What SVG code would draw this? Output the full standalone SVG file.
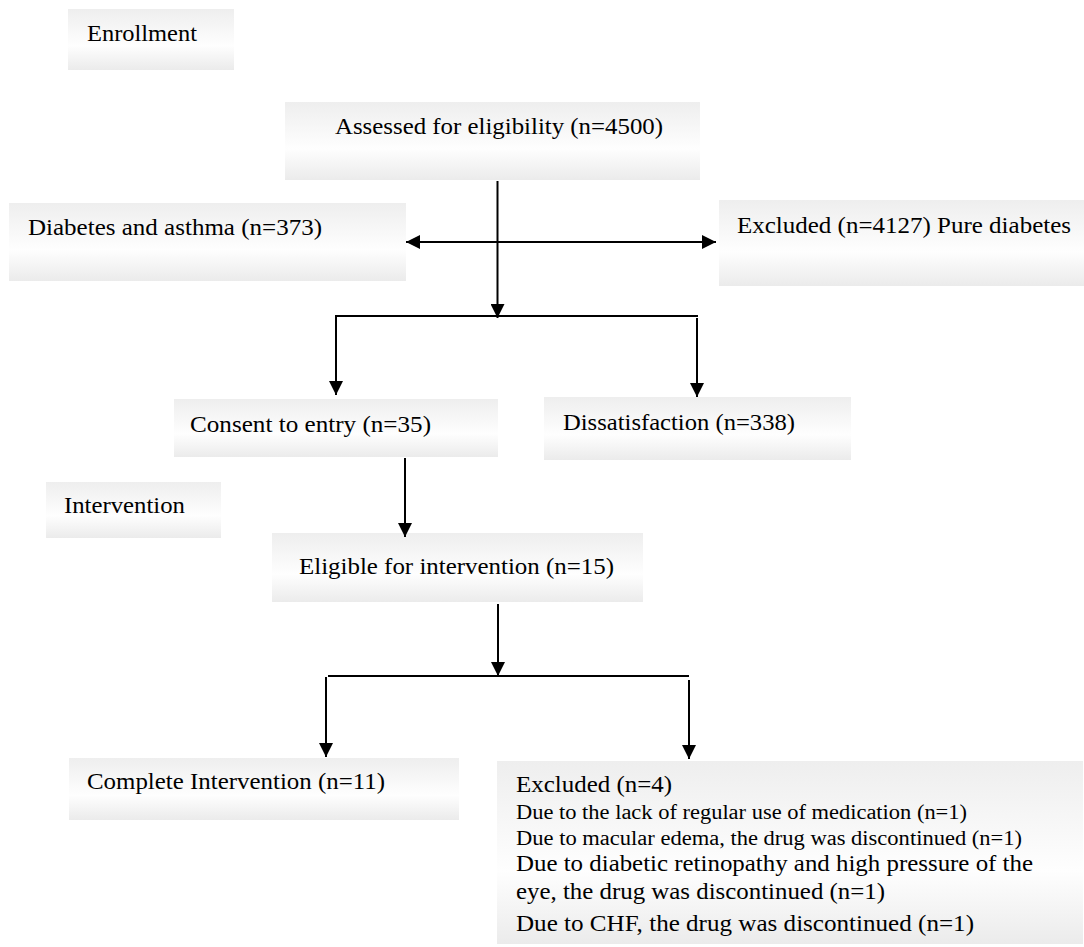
<svg xmlns="http://www.w3.org/2000/svg" width="1084" height="947" viewBox="0 0 1084 947">
<style>
.box{fill:url(#g)}
text{font-family:"Liberation Serif","Times New Roman",serif;font-size:24px;fill:#000}
.sm{font-size:20px}
.c{stroke:#000;stroke-width:2;fill:none}
.a{marker-end:url(#ah)}
.d{marker-start:url(#ah);marker-end:url(#ah)}
</style>
<defs>
<linearGradient id="g" x1="0" y1="0" x2="0" y2="1">
<stop offset="0" stop-color="#eeeeee"/>
<stop offset="0.6" stop-color="#fefefe"/>
<stop offset="1" stop-color="#ebebeb"/>
</linearGradient>
<marker id="ah" viewBox="0 0 14 14" refX="14" refY="7" markerWidth="14" markerHeight="14" markerUnits="userSpaceOnUse" orient="auto-start-reverse">
<path d="M0,0 L14,7 L0,14 z" fill="#000"/>
</marker>
</defs>
<g id="enrollment"><rect class="box" x="68" y="9" width="166" height="61"/><text x="87" y="41" textLength="110" lengthAdjust="spacingAndGlyphs">Enrollment</text></g>
<g id="assessed"><rect class="box" x="285" y="102" width="415" height="78"/><text x="335" y="134" textLength="328" lengthAdjust="spacingAndGlyphs">Assessed for eligibility (n=4500)</text></g>
<g id="diabetes-asthma"><rect class="box" x="9" y="203" width="397" height="78"/><text x="28" y="235" textLength="294" lengthAdjust="spacingAndGlyphs">Diabetes and asthma (n=373)</text></g>
<g id="excluded-pure"><rect class="box" x="719" y="200" width="365" height="86"/><text x="737" y="233" textLength="334" lengthAdjust="spacingAndGlyphs">Excluded (n=4127) Pure diabetes</text></g>
<g id="consent"><rect class="box" x="174" y="399" width="324" height="58"/><text x="190" y="432" textLength="241" lengthAdjust="spacingAndGlyphs">Consent to entry (n=35)</text></g>
<g id="dissatisfaction"><rect class="box" x="544" y="397" width="307" height="63"/><text x="563" y="430" textLength="232" lengthAdjust="spacingAndGlyphs">Dissatisfaction (n=338)</text></g>
<g id="intervention"><rect class="box" x="46" y="482" width="175" height="56"/><text x="64" y="513" textLength="121" lengthAdjust="spacingAndGlyphs">Intervention</text></g>
<g id="eligible"><rect class="box" x="272" y="533" width="371" height="69"/><text x="299" y="574" textLength="315" lengthAdjust="spacingAndGlyphs">Eligible for intervention (n=15)</text></g>
<g id="complete"><rect class="box" x="69" y="758" width="390" height="62"/><text x="87" y="789" textLength="298" lengthAdjust="spacingAndGlyphs">Complete Intervention (n=11)</text></g>
<g id="excluded-4"><rect class="box" x="497" y="761" width="586" height="183"/>
<text x="516" y="792" textLength="156" lengthAdjust="spacingAndGlyphs">Excluded (n=4)</text>
<text class="sm" x="516" y="819" textLength="451" lengthAdjust="spacingAndGlyphs">Due to the lack of regular use of medication (n=1)</text>
<text class="sm" x="516" y="845" textLength="506" lengthAdjust="spacingAndGlyphs">Due to macular edema, the drug was discontinued (n=1)</text>
<text x="516" y="871" textLength="517" lengthAdjust="spacingAndGlyphs">Due to diabetic retinopathy and high pressure of the</text>
<text x="516" y="899" textLength="369" lengthAdjust="spacingAndGlyphs">eye, the drug was discontinued (n=1)</text>
<text x="516" y="931" textLength="458" lengthAdjust="spacingAndGlyphs">Due to CHF, the drug was discontinued (n=1)</text>
</g>
<g id="connectors">
<line class="c a" x1="497.5" y1="181" x2="497.5" y2="318"/>
<line class="c d" x1="406" y1="242" x2="716" y2="242"/>
<line class="c" x1="335" y1="316" x2="698" y2="316"/>
<line class="c a" x1="336" y1="316" x2="336" y2="395"/>
<line class="c a" x1="697" y1="318" x2="697" y2="397"/>
<line class="c a" x1="405" y1="458" x2="405" y2="537"/>
<line class="c a" x1="498" y1="604" x2="498" y2="676"/>
<line class="c" x1="328" y1="676" x2="689" y2="676"/>
<line class="c a" x1="326" y1="677" x2="326" y2="757"/>
<line class="c a" x1="689" y1="680" x2="689" y2="759"/>
</g>
</svg>
